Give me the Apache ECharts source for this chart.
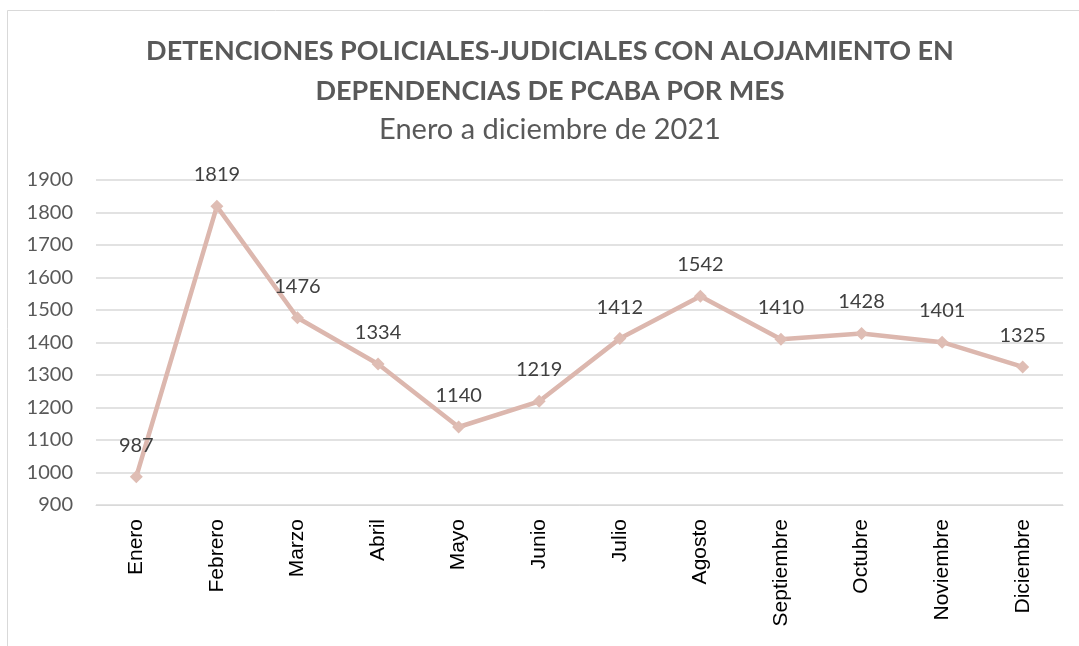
<!DOCTYPE html>
<html><head><meta charset="utf-8">
<script src="https://cdn.jsdelivr.net/npm/echarts@6/dist/echarts.min.js"></script>
<style>html,body{margin:0;padding:0;background:#fff}#c{width:1079px;height:646px}</style>
</head><body><div id="c"></div>
<script>
const months = ['Enero','Febrero','Marzo','Abril','Mayo','Junio','Julio','Agosto','Septiembre','Octubre','Noviembre','Diciembre'];
const detenciones = [987,1819,1476,1334,1140,1219,1412,1542,1410,1428,1401,1325];
const titleLines = ['DETENCIONES POLICIALES-JUDICIALES CON ALOJAMIENTO EN','DEPENDENCIAS DE PCABA POR MES'];
const subtitle = 'Enero a diciembre de 2021';

const chart = echarts.init(document.getElementById('c'));
chart.setOption({
  backgroundColor:'#fff',
  animation:false,
  graphic:[
    {type:'rect',shape:{x:7.5,y:10.5,width:1100,height:700},style:{fill:'none',stroke:'#d9d9d9',lineWidth:1},silent:true},
    {type:'text',x:550,y:51,style:{text:titleLines[0],textAlign:'center',textVerticalAlign:'middle',font:'bold 27px Lato',fill:'#595959'}},
    {type:'text',x:550,y:91,style:{text:titleLines[1],textAlign:'center',textVerticalAlign:'middle',font:'bold 27px Lato',fill:'#595959'}},
    {type:'text',x:550,y:130,style:{text:subtitle,textAlign:'center',textVerticalAlign:'middle',font:'29px Lato',fill:'#595959'}}
  ],
  grid:{left:96,right:16,top:180,bottom:141},
  xAxis:{type:'category',data:months,boundaryGap:true,
    axisLine:{show:true,lineStyle:{color:'#d9d9d9',width:1}},axisTick:{show:false},
    axisLabel:{rotate:90,fontFamily:'Liberation Sans',fontSize:21,color:'#000',margin:14,interval:0}},
  yAxis:{type:'value',min:900,max:1900,interval:100,
    axisLine:{show:false},axisTick:{show:false},
    splitLine:{lineStyle:{color:'#d9d9d9',width:1.5}},
    axisLabel:{fontFamily:'Lato',fontSize:20,color:'#595959',margin:23,formatter:v=>String(v)}},
  series:[{type:'line',data:detenciones,
    lineStyle:{color:'#dcb7ae',width:4.5},
    itemStyle:{color:'#dfbdb4'},
    symbol:'diamond',symbolSize:13,
    label:{show:true,position:'top',distance:15,fontFamily:'Lato',fontSize:20,color:'#404040'}
  }]
});
</script></body></html>
